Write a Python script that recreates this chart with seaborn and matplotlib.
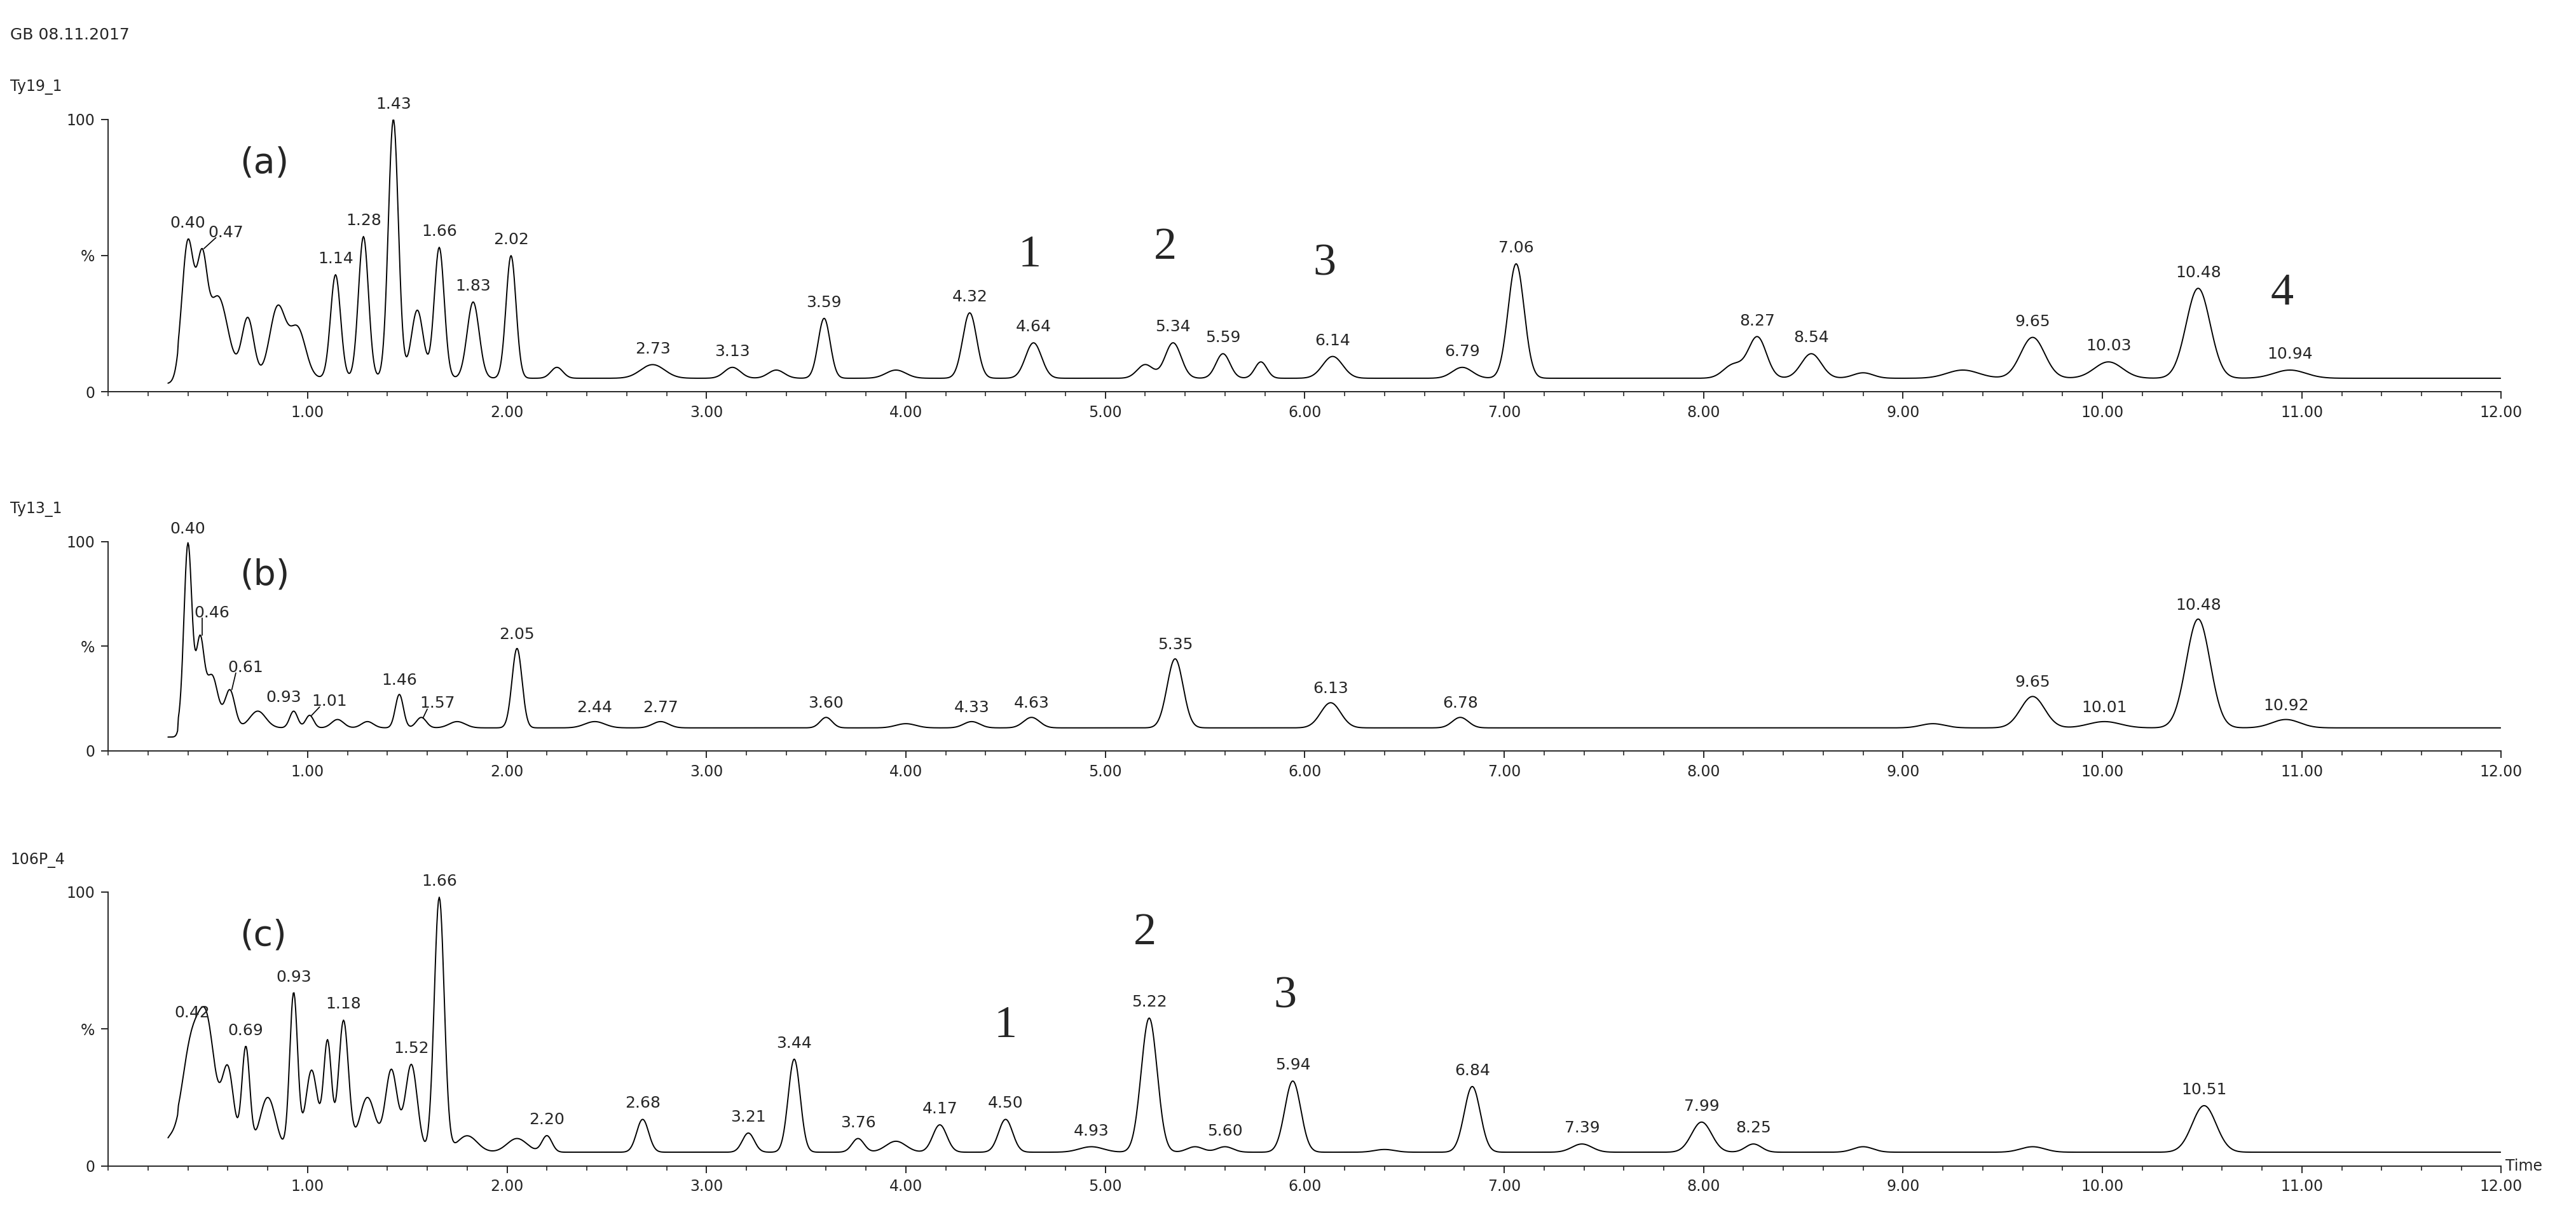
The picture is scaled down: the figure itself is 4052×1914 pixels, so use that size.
import numpy as np
import pandas as pd
import matplotlib
matplotlib.use("Agg")
import matplotlib.pyplot as plt
import seaborn as sns
from matplotlib.ticker import MultipleLocator

sns.set_style("ticks")
plt.rcParams['font.family'] = ['DejaVu Sans']

# peak tables: retention time, height (%), width (min), label shown?
a_rt = [0.40,0.47,0.55,0.70,0.85,0.95,1.14,1.28,1.43,1.55,1.66,1.83,2.02,2.25,2.73,3.13,3.35,3.59,3.95,4.32,4.64,5.20,5.34,5.59,5.78,6.14,6.79,7.06,8.15,8.27,8.54,8.80,9.30,9.65,10.03,10.48,10.94]
a_h  = [50,36,30,22,26,18,38,52,95,25,48,28,45,4,5,4,3,22,3,24,13,5,13,9,6,8,4,42,5,15,9,2,3,15,6,33,3]
a_w  = [0.03,0.025,0.05,0.03,0.04,0.04,0.025,0.025,0.025,0.03,0.025,0.03,0.025,0.03,0.06,0.04,0.04,0.03,0.05,0.035,0.04,0.04,0.04,0.035,0.03,0.05,0.05,0.04,0.05,0.045,0.05,0.05,0.08,0.06,0.07,0.06,0.08]
a_lab = [1,1,0,0,0,0,1,1,1,0,1,1,1,0,1,1,0,1,0,1,1,0,1,1,0,1,1,1,0,1,1,0,0,1,1,1,1]
a_base = 5

b_rt = [0.40,0.46,0.52,0.61,0.75,0.93,1.01,1.15,1.30,1.46,1.57,1.75,2.05,2.44,2.77,3.60,4.00,4.33,4.63,5.35,6.13,6.78,9.15,9.65,10.01,10.48,10.92]
b_h  = [88,40,25,18,8,8,6,4,3,16,5,3,38,3,3,5,2,3,5,33,12,5,2,15,3,52,4]
b_w  = [0.02,0.02,0.03,0.025,0.04,0.02,0.02,0.03,0.03,0.02,0.025,0.04,0.025,0.05,0.04,0.03,0.05,0.04,0.04,0.04,0.05,0.04,0.06,0.06,0.08,0.06,0.07]
b_lab = [1,1,0,1,0,1,1,0,0,1,1,0,1,1,1,1,0,1,1,1,1,1,0,1,1,1,1]
b_base = 11

c_rt = [0.30,0.42,0.50,0.60,0.69,0.80,0.93,1.02,1.10,1.18,1.30,1.42,1.52,1.66,1.80,2.05,2.20,2.68,3.21,3.44,3.76,3.95,4.17,4.50,4.93,5.22,5.45,5.60,5.94,6.40,6.84,7.39,7.99,8.25,8.80,9.65,10.51]
c_h  = [5,40,38,30,38,20,58,30,40,48,20,30,32,93,6,5,6,12,7,34,5,4,10,12,2,49,2,2,26,1,24,3,11,3,2,2,17]
c_w  = [0.03,0.05,0.04,0.03,0.02,0.04,0.02,0.03,0.02,0.025,0.04,0.03,0.03,0.025,0.05,0.05,0.025,0.03,0.03,0.03,0.03,0.05,0.035,0.035,0.06,0.04,0.04,0.04,0.04,0.05,0.04,0.05,0.05,0.04,0.05,0.06,0.06]
c_lab = [0,1,0,0,1,0,1,0,0,1,0,0,1,1,0,0,1,1,1,1,1,0,1,1,1,1,0,1,1,0,1,1,1,1,0,0,1]
c_base = 5

# label offsets (dx min, dy %) for crowded peaks that use leader lines
a_off = {0.47: (0.12, 2)}
b_off = {0.46: (0.06, 6), 0.61: (0.08, 6), 0.93: (-0.05, 2), 1.01: (0.10, 2), 1.57: (0.08, 2)}
c_off = {}

traces = [("Ty19_1","(a)",a_rt,a_h,a_w,a_lab,a_base,a_off,[(4.62,"1",50),(5.30,"2",53),(6.10,"3",47),(10.90,"4",36)]),
          ("Ty13_1","(b)",b_rt,b_h,b_w,b_lab,b_base,b_off,[]),
          ("106P_4","(c)",c_rt,c_h,c_w,c_lab,c_base,c_off,[(4.50,"1",51),(5.20,"2",85),(5.90,"3",62)])]

fig = plt.figure(figsize=(20.26, 9.57), dpi=200)
boxes = [(0.042,0.678,0.929,0.224),(0.042,0.383,0.929,0.172),(0.042,0.042,0.929,0.225)]
t = np.arange(0.3, 12.0, 0.004)
for (name, tag, rt, h, w, lab, base, off, nums), box in zip(traces, boxes):
    ax = fig.add_axes(box)
    y = np.full_like(t, float(base))
    y[t < 0.35] = base*0.6
    for r, hh, ww in zip(rt, h, w):
        y += hh*np.exp(-0.5*((t-r)/ww)**2)
    sns.lineplot(x=t, y=y, ax=ax, color="black", linewidth=0.7)
    for r, ll in zip(rt, lab):
        if ll:
            top = float(np.interp(r, t, y))
            dx, dy = off.get(r, (0.0, 2.0))
            ax.text(r+dx, top+dy+1, f"{r:.2f}", ha="center", va="bottom", fontsize=9, clip_on=False)
            if dx > 0.02:
                ax.plot([r+0.01, r+dx-0.05], [top, top+dy+2], color="black", lw=0.6)
    for r, s, yy in nums:
        ax.text(r, yy, s, ha="center", va="center", fontsize=26, family="Liberation Serif")
    ax.text(0.055, 0.84, tag, transform=ax.transAxes, fontsize=20, ha="left", va="center")
    ax.set_xlim(0, 12)
    ax.set_ylim(0, 100)
    ax.set_yticks([0, 50, 100])
    ax.set_yticklabels(["0", "%", "100"], fontsize=8.5)
    ax.xaxis.set_minor_locator(MultipleLocator(0.2))
    ax.set_xticks(np.arange(1, 13))
    ax.set_xticklabels([f"{v:.2f}" for v in range(1, 13)], fontsize=8.5)
    ax.tick_params(which="major", length=4, width=0.7)
    ax.tick_params(which="minor", length=2.5, width=0.6)
    sns.despine(ax=ax)
    for sp in ax.spines.values():
        sp.set_linewidth(0.7)
    ax.set_xlabel(""); ax.set_ylabel("")
    fig.text(0.004, box[1]+box[3]+0.02, name, fontsize=8.5, ha="left", va="bottom")
    if name == "106P_4":
        ax.text(12.02, 0, "Time", fontsize=8.5, ha="left", va="center", clip_on=False)
fig.text(0.004, 0.965, "GB 08.11.2017", fontsize=9, ha="left", va="bottom")
fig.savefig("out.png", dpi=200)
